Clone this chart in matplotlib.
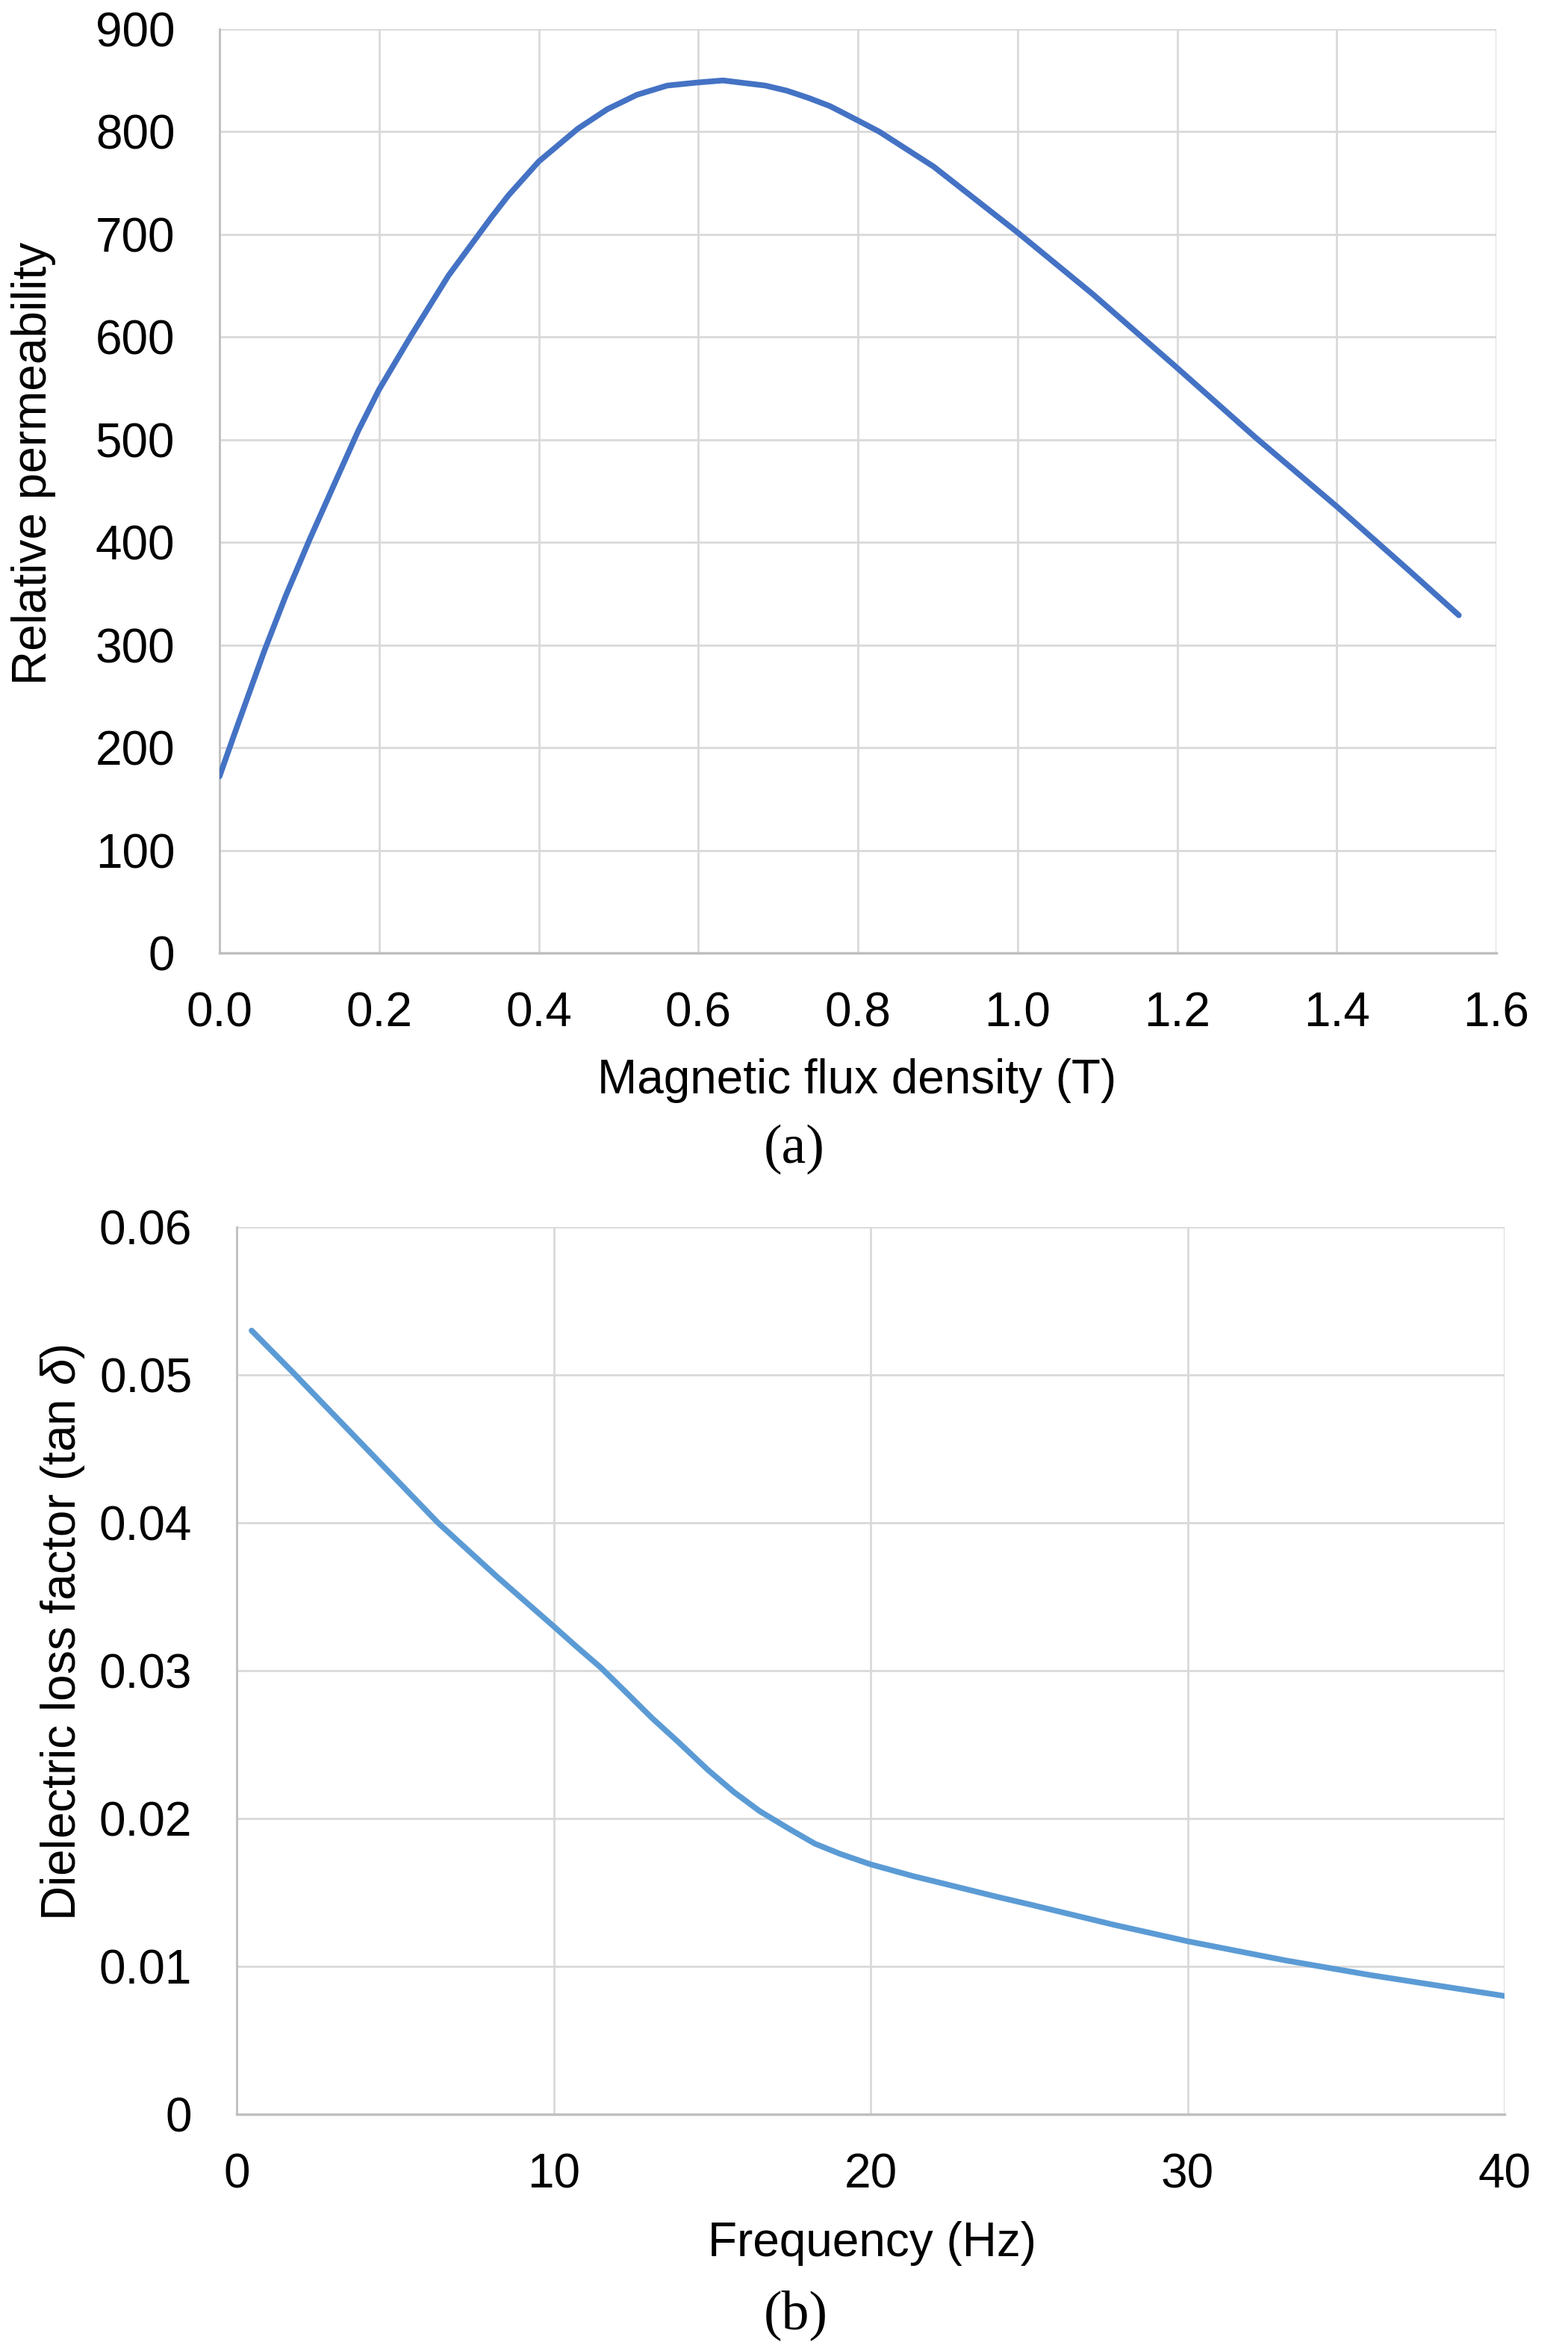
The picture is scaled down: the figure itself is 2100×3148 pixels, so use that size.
import matplotlib
matplotlib.use("Agg")
import matplotlib.pyplot as plt
from matplotlib.ticker import FixedLocator, FuncFormatter

# ---------------- data ----------------
flux_density = [0.0, 0.019, 0.056, 0.083, 0.113, 0.148, 0.174, 0.2, 0.239, 0.287,
                0.341, 0.362, 0.4, 0.449, 0.486, 0.523, 0.561, 0.599, 0.631, 0.684,
                0.711, 0.738, 0.765, 0.8, 0.827, 0.895, 1.0, 1.094, 1.2, 1.297,
                1.4, 1.49, 1.553]
rel_permeability = [172, 214, 294, 348, 403, 464, 509, 549, 600, 660,
                    717, 738, 771, 803, 822, 836, 845, 848, 850, 845,
                    840, 833, 825, 811, 800, 766, 702, 642, 570, 503,
                    435, 373, 329]

frequency = [0.47, 1.76, 3.65, 6.35, 8.24, 10, 10.68, 11.49, 12.3, 13.1,
             13.92, 14.86, 15.68, 16.5, 17.43, 18.24, 19.05, 20, 21.35, 22.3,
             24, 25, 27.7, 30, 33.1, 35.8, 40]
loss_factor = [0.0530, 0.0502, 0.0460, 0.0400, 0.0363, 0.0330, 0.0317, 0.0302, 0.0285, 0.0268,
               0.0252, 0.0233, 0.0218, 0.0205, 0.0193, 0.0183, 0.0176, 0.0169, 0.0161, 0.0156,
               0.0147, 0.0142, 0.0128, 0.0117, 0.0104, 0.0094, 0.0080]

a_xticks = [0.0, 0.2, 0.4, 0.6, 0.8, 1.0, 1.2, 1.4, 1.6]
a_yticks = [0, 100, 200, 300, 400, 500, 600, 700, 800, 900]
b_xticks = [0, 10, 20, 30, 40]
b_yticks = [0, 0.01, 0.02, 0.03, 0.04, 0.05, 0.06]

# ---------------- style ----------------
plt.rcParams['font.family'] = ['Liberation Sans', 'DejaVu Sans']
plt.rcParams['mathtext.fontset'] = 'custom'
plt.rcParams['mathtext.rm'] = 'Liberation Sans'
plt.rcParams['mathtext.it'] = 'Liberation Sans:italic'

FS = 46
FS_PANEL = 53
GRID = '#D9D9D9'
AXIS = '#BFBFBF'

W, H = 2100, 3148
fig = plt.figure(figsize=(W / 100, H / 100), dpi=100)


def px_axes(left, top, right, bottom):
    return fig.add_axes([left / W, 1 - bottom / H, (right - left) / W, (bottom - top) / H])


def style(ax):
    ax.grid(True, color=GRID, linewidth=2.0, zorder=0)
    ax.set_axisbelow(True)
    for s in ['top', 'right']:
        ax.spines[s].set_visible(False)
    ax.spines['left'].set_color(AXIS)
    ax.spines['left'].set_linewidth(2.0)
    ax.spines['bottom'].set_color(AXIS)
    ax.spines['bottom'].set_linewidth(2.5)
    ax.tick_params(axis='both', length=0, labelsize=FS)
    ax.tick_params(axis='x', pad=37)
    ax.tick_params(axis='y', pad=43)


# ---------------- (a) ----------------
ax1 = px_axes(294, 39, 2004, 1276)
ax1.plot(flux_density, rel_permeability, color='#4472C4', linewidth=5.5,
         solid_capstyle='round', solid_joinstyle='round', zorder=3)
ax1.set_xlim(0, 1.6)
ax1.set_ylim(0, 900)
ax1.xaxis.set_major_locator(FixedLocator(a_xticks))
ax1.yaxis.set_major_locator(FixedLocator(a_yticks))
ax1.xaxis.set_major_formatter(FuncFormatter(lambda v, p: f"{v:.1f}"))
ax1.yaxis.set_major_formatter(FuncFormatter(lambda v, p: f"{v:.0f}"))
style(ax1)
ax1.set_xlabel("Magnetic flux density (T)", fontsize=FS)
ax1.xaxis.set_label_coords((1148 - 294) / 1710, -(1447 - 1276) / 1237)
ax1.xaxis.label.set_va('center')
ax1.set_ylabel("Relative permeability", fontsize=FS)
ax1.yaxis.set_label_coords(-(294 - 45) / 1710, (1276 - 620) / 1237)
ax1.yaxis.label.set_va('center')
fig.text(1064 / W, 1 - 1539 / H, "(a)", fontsize=FS_PANEL, family=['Liberation Serif'],
         ha='center', va='center')

# ---------------- (b) ----------------
ax2 = px_axes(317, 1643, 2015, 2831)
ax2.plot(frequency, loss_factor, color='#5B9BD5', linewidth=5.5,
         solid_capstyle='round', solid_joinstyle='round', zorder=3)
ax2.set_xlim(0, 40)
ax2.set_ylim(0, 0.06)
ax2.xaxis.set_major_locator(FixedLocator(b_xticks))
ax2.yaxis.set_major_locator(FixedLocator(b_yticks))
ax2.xaxis.set_major_formatter(FuncFormatter(lambda v, p: f"{v:.0f}"))
ax2.yaxis.set_major_formatter(FuncFormatter(lambda v, p: "0" if v == 0 else f"{v:.2f}"))
style(ax2)
ax2.set_xlabel("Frequency (Hz)", fontsize=FS)
ax2.xaxis.set_label_coords((1168 - 317) / 1698, -(3004 - 2831) / 1188)
ax2.xaxis.label.set_va('center')
ax2.set_ylabel(r"Dielectric loss factor (tan $\delta$)", fontsize=FS)
ax2.yaxis.set_label_coords(-(317 - 84) / 1698, (2831 - 2186) / 1188)
ax2.yaxis.label.set_va('center')
fig.text(1066 / W, 1 - 3100 / H, "(b)", fontsize=FS_PANEL, family=['Liberation Serif'],
         ha='center', va='center')

fig.savefig("out.png", dpi=100, facecolor='white')
